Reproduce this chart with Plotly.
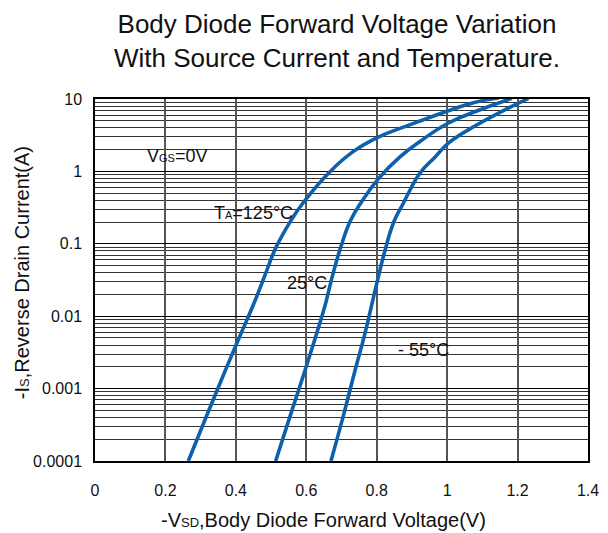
import math
import plotly.graph_objects as go

# Data
v_125 = [0.265, 0.336, 0.403, 0.450, 0.483, 0.513, 0.555, 0.590, 0.668, 0.734, 0.803, 0.895, 1.008, 1.075, 1.146]
i_125 = [0.0001, 0.000708, 0.00427, 0.0145, 0.0372, 0.0871, 0.204, 0.363, 1.0, 1.89, 2.95, 4.42, 7.0, 8.91, 10.3]

v_25 = [0.513, 0.554, 0.597, 0.630, 0.654, 0.675, 0.697, 0.725, 0.757, 0.805, 0.866, 0.923, 1.004, 1.094, 1.184]
i_25 = [0.0001, 0.000417, 0.00182, 0.00589, 0.0145, 0.0372, 0.0871, 0.206, 0.38, 0.794, 1.585, 2.59, 4.66, 7.11, 10.2]

v_m55 = [0.670, 0.705, 0.739, 0.767, 0.800, 0.822, 0.849, 0.876, 0.895, 0.923, 0.966, 1.006, 1.080, 1.160, 1.231]
i_m55 = [0.0001, 0.000417, 0.00182, 0.00589, 0.0282, 0.0759, 0.203, 0.366, 0.558, 0.951, 1.585, 2.51, 4.27, 6.92, 10.2]

y_tickvals = [0.0001, 0.001, 0.01, 0.1, 1, 10]
y_ticktext = ["0.0001", "0.001", "0.01", "0.1", "1", "10"]
x_tickvals = [0, 0.2, 0.4, 0.6, 0.8, 1.0, 1.2, 1.4]
x_ticktext = ["0", "0.2", "0.4", "0.6", "0.8", "1", "1.2", "1.4"]
minor_vals = [k * 10.0 ** e for e in range(-4, 1) for k in range(2, 10)]

labels = ["V<span style='font-size:11px'>GS</span>=0V",
          "T<span style='font-size:11px'>A</span>=125°C",
          "25°C",
          "- 55°C"]
label_x = [0.232, 0.449, 0.601, 0.934]
label_y = [1.65, 0.266, 0.0288, 0.00345]

FONT = "Liberation Sans, Arial, sans-serif"
BLUE = "#0d60ab"

fig = go.Figure()
for v, i in [(v_125, i_125), (v_25, i_25), (v_m55, i_m55)]:
    fig.add_trace(go.Scatter(x=v, y=i, mode="lines",
                             line=dict(color=BLUE, width=3.6, shape="spline", smoothing=1.3),
                             showlegend=False, hoverinfo="skip"))

for t, x, y in zip(labels, label_x, label_y):
    fig.add_annotation(x=x, y=math.log10(y), xref="x", yref="y", text=t, showarrow=False,
                       font=dict(family=FONT, size=18, color="#111"),
                       xanchor="center", yanchor="middle")

# axis titles as annotations for precise placement
fig.add_annotation(x=0.4645, y=-0.163, xref="paper", yref="paper", showarrow=False,
                   text="-V<span style='font-size:13px'>SD</span>,Body Diode Forward Voltage(V)",
                   font=dict(family=FONT, size=20, color="#111"),
                   xanchor="center", yanchor="middle")
fig.add_annotation(x=-0.148, y=0.519, xref="paper", yref="paper", showarrow=False,
                   text="-I<span style='font-size:13px'>S</span>,Reverse Drain Current(A)",
                   font=dict(family=FONT, size=20, color="#111"), textangle=-90,
                   xanchor="center", yanchor="middle")

fig.update_layout(
    width=600, height=525,
    margin=dict(l=87, r=20, t=91, b=72),
    paper_bgcolor="white", plot_bgcolor="white",
    font=dict(family=FONT, color="#111"),
    title=dict(text="Body Diode Forward Voltage Variation<br>With Source Current and Temperature.",
               font=dict(family=FONT, size=26, color="#111"),
               x=329 / 600, xref="container", xanchor="center",
               y=1 - 25 / 525, yref="container", yanchor="middle"),
)

fig.update_xaxes(range=[0, 1.4], tickvals=x_tickvals, ticktext=x_ticktext,
                 showgrid=True, gridcolor="#555", gridwidth=1.5,
                 showline=True, linecolor="#000", linewidth=1.5, mirror=True,
                 ticks="outside", ticklen=14, tickcolor="rgba(0,0,0,0)",
                 tickfont=dict(family=FONT, size=16, color="#111"),
                 zeroline=False, automargin=False)

fig.update_yaxes(type="log", range=[-4, 1], tickvals=y_tickvals, ticktext=y_ticktext,
                 showgrid=True, gridcolor="#000", gridwidth=1.2,
                 minor=dict(tickvals=minor_vals, showgrid=True, gridcolor="#333", gridwidth=1, ticks=""),
                 showline=True, linecolor="#000", linewidth=1.5, mirror=True,
                 ticks="outside", ticklen=8, tickcolor="rgba(0,0,0,0)",
                 tickfont=dict(family=FONT, size=16, color="#111"),
                 zeroline=False, automargin=False)

fig.write_html("out.html")
